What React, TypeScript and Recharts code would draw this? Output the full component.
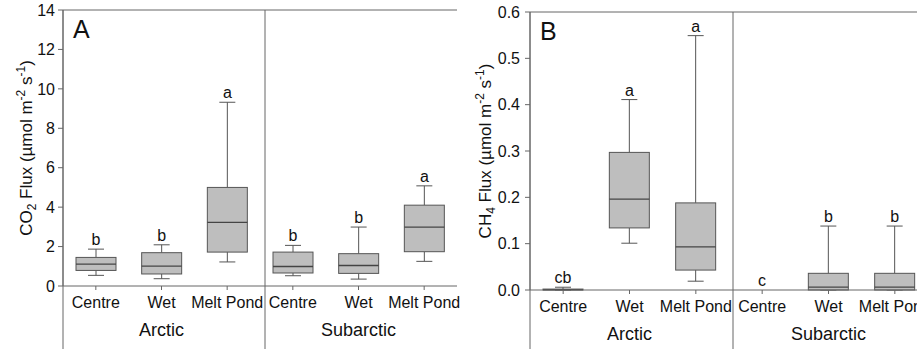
import React from 'react'
import { ComposedChart, Bar, XAxis, YAxis, ReferenceLine, LabelList } from 'recharts'

const FONT = '"Liberation Sans", Arial, sans-serif'
const INK = '#111'
const FRAME = '#666'
const BOX_STROKE = '#555'
const BOX_FILL = '#bebebe'

const REGIONS = ['Arctic', 'Subarctic']
const SITES = ['Centre', 'Wet', 'Melt Pond']

// CO2 flux (µmol m-2 s-1), order: Arctic C/W/MP, Subarctic C/W/MP
const CO2_MIN = [0.54, 0.37, 1.22, 0.52, 0.35, 1.25]
const CO2_Q1 = [0.79, 0.61, 1.72, 0.66, 0.64, 1.74]
const CO2_MED = [1.11, 1.01, 3.23, 0.99, 1.04, 2.99]
const CO2_Q3 = [1.45, 1.69, 5.0, 1.72, 1.64, 4.1]
const CO2_MAX = [1.87, 2.09, 9.32, 2.06, 2.99, 5.08]
const CO2_SIG = ['b', 'b', 'a', 'b', 'b', 'a']
const CO2_TICKS = [0, 2, 4, 6, 8, 10, 12, 14]

// CH4 flux (µmol m-2 s-1)
const CH4_MIN = [0, 0.101, 0.019, 0, 0, 0]
const CH4_Q1 = [0, 0.134, 0.043, 0, 0, 0]
const CH4_MED = [0.001, 0.196, 0.093, 0, 0.006, 0.006]
const CH4_Q3 = [0.002, 0.297, 0.188, 0, 0.036, 0.036]
const CH4_MAX = [0.006, 0.411, 0.549, 0, 0.138, 0.138]
const CH4_SIG = ['cb', 'a', 'a', 'c', 'b', 'b']
const CH4_TICKS = [0, 0.1, 0.2, 0.3, 0.4, 0.5, 0.6]

interface Row {
  key: string
  region: string
  site: string
  min: number
  q1: number
  med: number
  q3: number
  max: number
  range: [number, number]
  sig: string
}

function buildRows(min: number[], q1: number[], med: number[], q3: number[], max: number[], sig: string[]): Row[] {
  return REGIONS.flatMap((region, ri) =>
    SITES.map((site, si) => {
      const i = ri * SITES.length + si
      return {
        key: `${region}|${site}`,
        region,
        site,
        min: min[i],
        q1: q1[i],
        med: med[i],
        q3: q3[i],
        max: max[i],
        range: [min[i], max[i]] as [number, number],
        sig: sig[i],
      }
    })
  )
}

const co2Rows = buildRows(CO2_MIN, CO2_Q1, CO2_MED, CO2_Q3, CO2_MAX, CO2_SIG)
const ch4Rows = buildRows(CH4_MIN, CH4_Q1, CH4_MED, CH4_Q3, CH4_MAX, CH4_SIG)

// box drawn inside the whisker range bar; scale derived from the bar's own pixels
function BoxShape(props: any) {
  const { x, y, width, height, payload } = props
  const d = payload as Row
  if (!(d.max > d.min)) return null
  const top = height < 0 ? y + height : y
  const k = Math.abs(height) / (d.max - d.min)
  const py = (v: number) => top + (d.max - v) * k
  const cx = x + width / 2
  const cap = 8
  return (
    <g>
      <line x1={cx} x2={cx} y1={py(d.max)} y2={py(d.q3)} stroke={BOX_STROKE} />
      <line x1={cx} x2={cx} y1={py(d.q1)} y2={py(d.min)} stroke={BOX_STROKE} />
      <line x1={cx - cap} x2={cx + cap} y1={py(d.max)} y2={py(d.max)} stroke={BOX_STROKE} />
      <line x1={cx - cap} x2={cx + cap} y1={py(d.min)} y2={py(d.min)} stroke={BOX_STROKE} />
      <rect
        x={x}
        y={py(d.q3)}
        width={width}
        height={Math.max(py(d.q1) - py(d.q3), 0.5)}
        fill={BOX_FILL}
        stroke={BOX_STROKE}
      />
      <line x1={x} x2={x + width} y1={py(d.med)} y2={py(d.med)} stroke="#444" strokeWidth={1.3} />
    </g>
  )
}

function CatTick(props: any) {
  const { x, y, payload } = props
  const [region, site] = String(payload.value).split('|')
  return (
    <g fontFamily={FONT} fill={INK}>
      <text x={x} y={y + 11} textAnchor="middle" fontSize={16}>
        {site}
      </text>
      {site === SITES[1] && (
        <text x={x} y={y + 39} textAnchor="middle" fontSize={18}>
          {region}
        </text>
      )}
    </g>
  )
}

function makeTitle(gas: string, sub: string, baseX: number) {
  return (props: any) => {
    const vb = props.viewBox
    const bx = vb.x + baseX
    const cy = vb.y + vb.height / 2
    return (
      <text
        transform={`translate(${bx},${cy}) rotate(-90)`}
        textAnchor="middle"
        fontFamily={FONT}
        fontSize={17}
        fill={INK}
      >
        <tspan>{gas}</tspan>
        <tspan dy={4} fontSize={12}>{sub}</tspan>
        <tspan dy={-4}> Flux (µmol m</tspan>
        <tspan dy={-7} fontSize={12}>-2</tspan>
        <tspan dy={7}> s</tspan>
        <tspan dy={-7} fontSize={12}>-1</tspan>
        <tspan dy={7}>)</tspan>
      </text>
    )
  }
}

function frameLine(shift: number, extend: number) {
  return (p: any) => {
    const top = Math.min(p.y1, p.y2)
    const bottom = Math.max(p.y1, p.y2) + extend
    return <line x1={p.x1 + shift} x2={p.x2 + shift} y1={top} y2={bottom} stroke={FRAME} strokeWidth={1} />
  }
}

interface PanelProps {
  left: number
  width: number
  rows: Row[]
  ticks: number[]
  fmt: (v: number) => string
  marginTop: number
  marginRight: number
  yAxisWidth: number
  tickMargin: number
  xAxisHeight: number
  gas: string
  sub: string
  titleX: number
  letter: string
  dividerShift: number
}

function Panel(p: PanelProps) {
  const top = p.ticks[p.ticks.length - 1]
  return (
    <div style={{ position: 'absolute', left: p.left, top: 0, width: p.width, height: 349 }}>
      <ComposedChart
        width={p.width}
        height={349}
        data={p.rows}
        margin={{ top: p.marginTop, right: p.marginRight, left: 0, bottom: 0 }}
      >
        <XAxis
          dataKey="key"
          height={p.xAxisHeight}
          interval={0}
          tick={(t: any) => <CatTick {...t} />}
          tickSize={4}
          tickMargin={7}
          tickLine={{ stroke: FRAME }}
          axisLine={{ stroke: FRAME }}
        />
        <YAxis
          type="number"
          domain={[0, top]}
          ticks={p.ticks}
          tickFormatter={p.fmt}
          width={p.yAxisWidth}
          tickSize={5}
          tickMargin={p.tickMargin}
          tick={{ fill: INK, fontSize: 16, fontFamily: FONT }}
          tickLine={{ stroke: FRAME }}
          axisLine={{ stroke: FRAME }}
          label={makeTitle(p.gas, p.sub, p.titleX)}
        />
        <ReferenceLine y={top} stroke={FRAME} />
        <ReferenceLine x={p.rows[0].key} position="start" shape={frameLine(0, p.xAxisHeight)} />
        <ReferenceLine x={p.rows[3].key} position="start" shape={frameLine(p.dividerShift, p.xAxisHeight)} />
        <ReferenceLine x={p.rows[5].key} position="end" shape={frameLine(0, p.xAxisHeight)} />
        <Bar dataKey="range" barSize={40} shape={BoxShape} isAnimationActive={false}>
          <LabelList dataKey="sig" position="top" offset={4} fill={INK} fontSize={16} fontFamily={FONT} />
        </Bar>
      </ComposedChart>
      <div
        style={{
          position: 'absolute',
          left: p.yAxisWidth + 10,
          top: p.marginTop + 7,
          fontFamily: FONT,
          fontSize: 25,
          lineHeight: '25px',
          color: INK,
        }}
      >
        {p.letter}
      </div>
    </div>
  )
}

export default function App() {
  return (
    <div
      style={{
        position: 'fixed',
        left: 0,
        top: 0,
        width: 917,
        height: 349,
        overflow: 'hidden',
        background: '#fff',
      }}
    >
      <Panel
        left={0}
        width={460}
        rows={co2Rows}
        ticks={CO2_TICKS}
        fmt={(v) => String(v)}
        marginTop={10}
        marginRight={3}
        yAxisWidth={63}
        tickMargin={3}
        xAxisHeight={63}
        gas="CO"
        sub="2"
        titleX={32}
        letter="A"
        dividerShift={5}
      />
      <Panel
        left={458}
        width={480}
        rows={ch4Rows}
        ticks={CH4_TICKS}
        fmt={(v) => v.toFixed(1)}
        marginTop={12}
        marginRight={10}
        yAxisWidth={72}
        tickMargin={5}
        xAxisHeight={59}
        gas="CH"
        sub="4"
        titleX={33}
        letter="B"
        dividerShift={4}
      />
    </div>
  )
}
